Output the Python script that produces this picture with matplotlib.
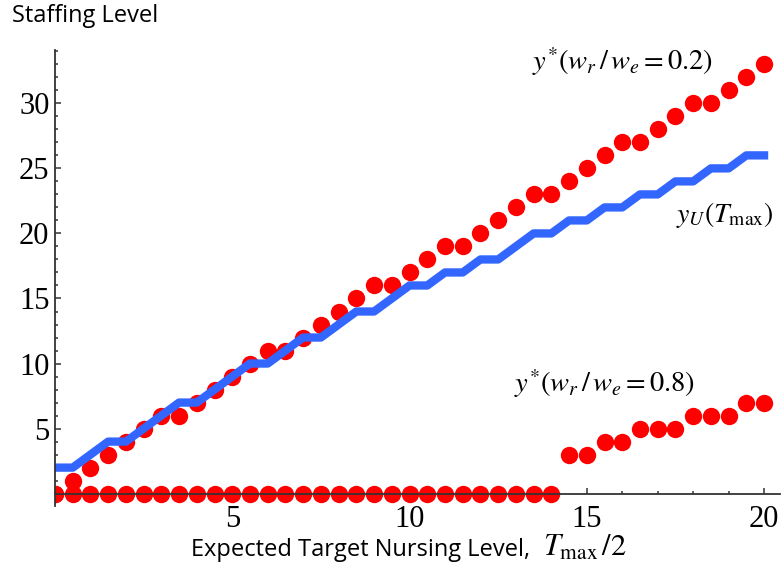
import numpy as np
import matplotlib.pyplot as plt
from matplotlib.ticker import MultipleLocator

plt.rcParams['mathtext.fontset'] = 'stix'

# expected target nursing level, T_max / 2
x = np.arange(0, 20.5, 0.5)

# y*(w_r/w_e = 0.2)
y_low_ratio = [0, 1, 2, 3, 4, 5, 6, 6, 7, 8, 9, 10, 11, 11, 12, 13, 14, 15, 16, 16,
               17, 18, 19, 19, 20, 21, 22, 23, 23, 24, 25, 26, 27, 27, 28, 29, 30, 30,
               31, 32, 33]
# y*(w_r/w_e = 0.8)
y_high_ratio = [0] * 29 + [3, 3, 4, 4, 5, 5, 5, 6, 6, 6, 7, 7]
# y_U(T_max)
y_upper = [2, 2, 3, 4, 4, 5, 6, 7, 7, 8, 9, 10, 10, 11, 12, 12, 13, 14, 14, 15,
           16, 16, 17, 17, 18, 18, 19, 20, 20, 21, 21, 22, 22, 23, 23, 24, 24, 25,
           25, 26, 26]

fig = plt.figure(figsize=(7.84, 5.75), dpi=100)
ax = fig.add_axes([55 / 784, 1 - 506 / 575, 725 / 784, 456 / 575])

ax.plot(x, y_high_ratio, 'o', color='#ff0000', ms=12.5, mec='none', zorder=2)
ax.plot(x, y_low_ratio, 'o', color='#ff0000', ms=12.5, mec='none', zorder=2)
ax.plot(x, y_upper, '-', color='#3366ff', lw=6, solid_capstyle='projecting', zorder=3)

ax.set_xlim(0, 20.45)
ax.set_ylim(-0.95, 34.1)

for s in ['top', 'right']:
    ax.spines[s].set_visible(False)
ax.spines['bottom'].set_position(('data', 0))
ax.spines['left'].set_position(('data', 0))
for s in ['bottom', 'left']:
    ax.spines[s].set_color('#333333')
    ax.spines[s].set_linewidth(1.3)
    ax.spines[s].set_zorder(5)

ax.xaxis.set_minor_locator(MultipleLocator(1))
ax.yaxis.set_minor_locator(MultipleLocator(1))
ax.set_xticks([5, 10, 15, 20])
ax.set_yticks([5, 10, 15, 20, 25, 30])
ax.tick_params(which='both', direction='in', color='#333333', width=1.1,
               labelsize=22, labelfontfamily='Liberation Serif')
ax.tick_params(which='major', length=4)
ax.tick_params(which='minor', length=2.5)
ax.tick_params(axis='x', pad=8)
ax.tick_params(axis='y', pad=4)

ax.text(16.0, 33.2, r'$y^{*}\left(w_r\,/\,w_e = 0.2\right)$', fontsize=20.5,
        ha='center', va='center')
ax.text(18.9, 21.4, r'$y_U\left(T_{\max}\right)$', fontsize=20,
        ha='center', va='center')
ax.text(15.5, 8.5, r'$y^{*}\left(w_r\,/\,w_e = 0.8\right)$', fontsize=20.5,
        ha='center', va='center')

fig.text(12 / 784, 1 - 16 / 575, 'Staffing Level', fontsize=17, family='Open Sans',
         ha='left', va='center')
fig.text(530 / 784, 1 - 556 / 575, 'Expected Target Nursing Level,', fontsize=17,
         family='Open Sans', ha='right', va='baseline')
fig.text(543 / 784, 1 - 556 / 575, r'$T_{\max}\,/2$', fontsize=22,
         ha='left', va='baseline')

fig.savefig('out.png', dpi=100)
